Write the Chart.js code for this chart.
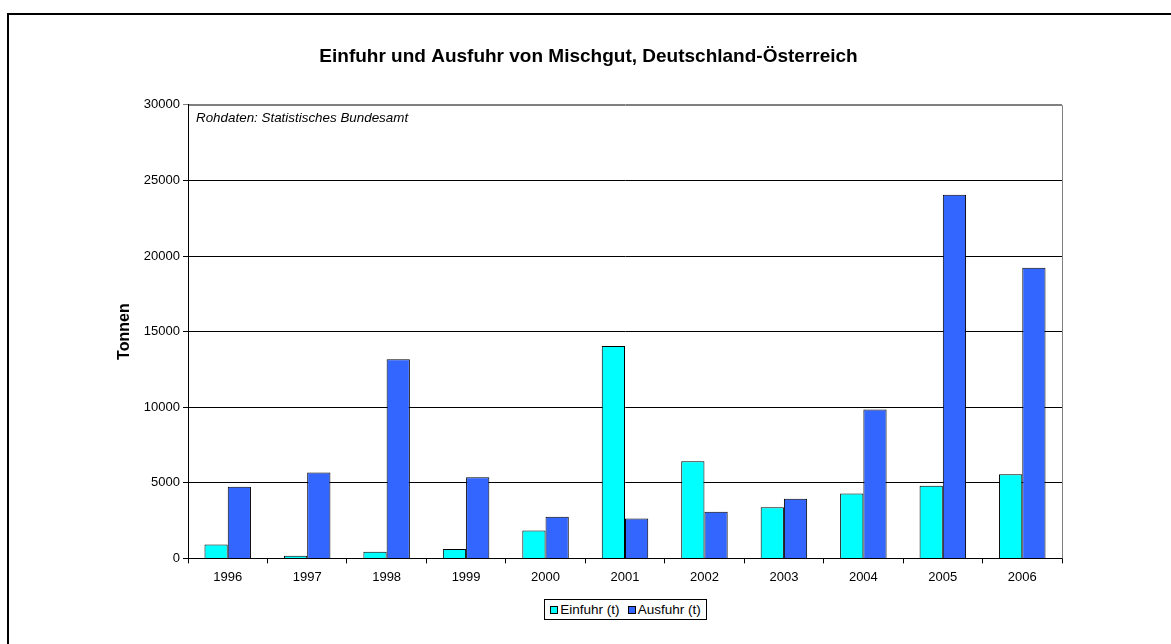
<!DOCTYPE html>
<html>
<head>
<meta charset="utf-8">
<script src="https://cdn.jsdelivr.net/npm/chart.js@4.4.1/dist/chart.umd.min.js"></script>
<style>
  html, body { margin: 0; padding: 0; background: #fff; }
  #wrap { position: relative; width: 1171px; height: 644px; overflow: hidden; }
  #frame { position: absolute; left: 7px; top: 13px; width: 1200px; height: 700px; border-left: 2px solid #000; border-top: 2px solid #000; box-sizing: border-box; }
  #c { position: absolute; left: 0; top: 0; }
  #legend { position: absolute; top: 599px; left: 544px; height: 21px; width: 163px; box-sizing: border-box; border: 1px solid #000; background: #fff;
    font-family: "Liberation Sans", Arial, sans-serif; font-size: 13.5px; display: flex; align-items: center; justify-content: center; gap: 8px; white-space: nowrap; }
  .li { display: flex; align-items: center; }
  .sw { width: 6px; height: 6px; border: 1px solid #000; margin-right: 2px; }
</style>
</head>
<body>
<div id="wrap">
  <div id="frame"></div>
  <canvas id="c" width="1171" height="644"></canvas>
  <div id="legend"></div>
</div>
<script>
const categories = ["1996","1997","1998","1999","2000","2001","2002","2003","2004","2005","2006"];
const einfuhr = [925, 170, 436, 615, 1850, 14050, 6430, 3390, 4300, 4800, 5570];
const ausfuhr = [4733, 5684, 13170, 5373, 2750, 2644, 3080, 3940, 9848, 24050, 19230];
const seriesLabels = ["Einfuhr (t)", "Ausfuhr (t)"];
const seriesColors = ["#00FFFF", "#3366FF"];
const yTicks = [0, 5000, 10000, 15000, 20000, 25000, 30000];
const chartTitle = "Einfuhr und Ausfuhr von Mischgut, Deutschland-Österreich";
const yTitle = "Tonnen";
const noteText = "Rohdaten: Statistisches Bundesamt";

const FONT = "'Liberation Sans', Arial, sans-serif";

const framePlugin = {
  id: 'framePlugin',
  afterDraw(chart) {
    const {ctx, chartArea: a} = chart;
    ctx.save();
    ctx.strokeStyle = '#808080';
    ctx.lineWidth = 1;
    ctx.beginPath();
    ctx.moveTo(a.left + 1, Math.round(a.top) + 0.5);
    ctx.lineTo(Math.round(a.right) + 0.5, Math.round(a.top) + 0.5);
    ctx.lineTo(Math.round(a.right) + 0.5, a.bottom);
    ctx.stroke();
    ctx.fillStyle = '#000';
    ctx.font = "italic 13.4px " + FONT;
    ctx.textBaseline = 'top';
    ctx.fillText(noteText, a.left + 8, a.top + 7);
    ctx.restore();
  }
};

new Chart(document.getElementById('c'), {
  type: 'bar',
  data: {
    labels: categories,
    datasets: [
      { label: seriesLabels[0], data: einfuhr, backgroundColor: seriesColors[0], borderColor: '#000', borderWidth: 1 },
      { label: seriesLabels[1], data: ausfuhr, backgroundColor: seriesColors[1], borderColor: '#000', borderWidth: 1 }
    ]
  },
  options: {
    responsive: false,
    animation: false,
    events: [],
    layout: { padding: { left: 115, right: 109, top: 0, bottom: 53 } },
    datasets: { bar: { barPercentage: 1.0, categoryPercentage: 0.585 } },
    plugins: {
      legend: { display: false },
      tooltip: { enabled: false },
      title: {
        display: true, text: chartTitle, color: '#000',
        font: { family: FONT, size: 19, weight: 'bold' },
        padding: { top: 45, bottom: 37 }
      }
    },
    scales: {
      x: {
        offset: true,
        grid: { offset: true, drawOnChartArea: false, drawTicks: true, tickLength: 5, color: '#000' },
        border: { color: '#000', width: 1 },
        ticks: { color: '#000', font: { family: FONT, size: 13 }, padding: 6, maxRotation: 0 }
      },
      y: {
        min: 0, max: 30000,
        afterBuildTicks(scale) { scale.ticks = yTicks.map(v => ({ value: v })); },
        afterFit(scale) { scale.width = 73; },
        grid: { color: c => (c.tick && c.tick.value === 30000 ? '#808080' : '#000'), tickLength: 5, drawTicks: true },
        border: { color: '#000', width: 1 },
        ticks: { color: '#000', font: { family: FONT, size: 13 }, padding: 3, callback: v => String(v) },
        title: { display: true, text: yTitle, color: '#000', font: { family: FONT, size: 16, weight: 'bold' }, padding: 0 }
      }
    }
  },
  plugins: [framePlugin]
});

const lg = document.getElementById('legend');
seriesLabels.forEach((l, i) => {
  const d = document.createElement('div'); d.className = 'li';
  const s = document.createElement('div'); s.className = 'sw'; s.style.background = seriesColors[i];
  const t = document.createElement('span'); t.textContent = l;
  d.appendChild(s); d.appendChild(t); lg.appendChild(d);
});
</script>
</body>
</html>
